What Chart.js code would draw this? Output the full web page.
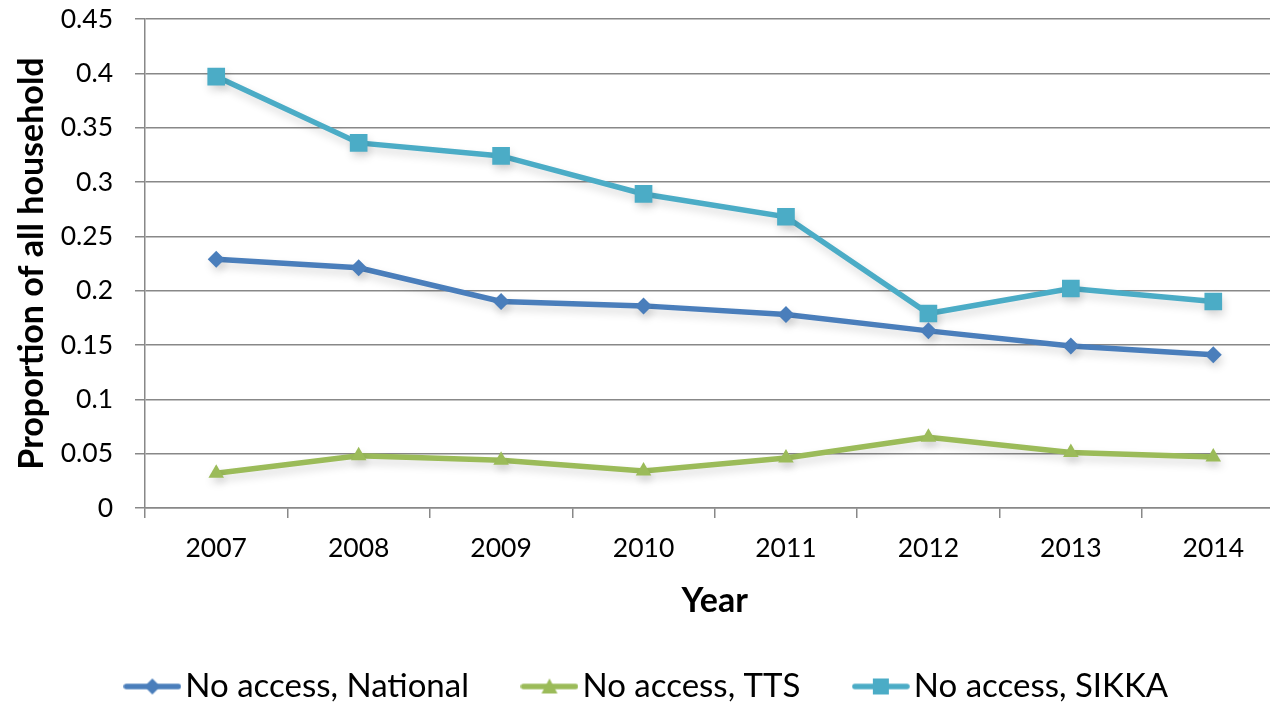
<!DOCTYPE html>
<html>
<head>
<meta charset="utf-8">
<script src="https://cdn.jsdelivr.net/npm/chart.js@4.4.1/dist/chart.umd.min.js"></script>
<style>
  html, body { margin: 0; padding: 0; background: #fff; overflow: hidden; }
  #wrap { width: 1297px; height: 703px; }
</style>
</head>
<body>
<div id="wrap"><canvas id="myChart"></canvas></div>
<script>
// data
var years = ['2007', '2008', '2009', '2010', '2011', '2012', '2013', '2014'];
var national = [0.229, 0.221, 0.190, 0.186, 0.178, 0.163, 0.149, 0.141];
var tts = [0.032, 0.048, 0.044, 0.034, 0.046, 0.065, 0.051, 0.047];
var sikka = [0.397, 0.336, 0.324, 0.289, 0.268, 0.179, 0.202, 0.190];
var seriesNames = ['No access, National', 'No access, TTS', 'No access, SIKKA'];
var yTicks = [0, 0.05, 0.1, 0.15, 0.2, 0.25, 0.3, 0.35, 0.4, 0.45];

var colors = ['#4A7EBB', '#9BBB59', '#4BACC6'];
var styles = ['rectRot', 'triangle', 'rect'];
var radii = [8.5, 9, 12.5];

function legendIcon(color, style) {
    var c = document.createElement('canvas');
    c.width = 58; c.height = 20;
    var g = c.getContext('2d');
    g.strokeStyle = color; g.fillStyle = color; g.lineWidth = 5.5; g.lineCap = 'round';
    g.beginPath(); g.moveTo(3, 10); g.lineTo(55, 10); g.stroke();
    g.beginPath();
    if (style == 'rectRot') {
        g.moveTo(29, 2); g.lineTo(37, 10); g.lineTo(29, 18); g.lineTo(21, 10);
    } else if (style == 'triangle') {
        g.moveTo(29, 2); g.lineTo(37, 17); g.lineTo(21, 17);
    } else {
        g.rect(21, 2, 16, 16);
    }
    g.closePath(); g.fill();
    return c;
}

var datasets = [national, tts, sikka].map(function (d, i) {
    return {
        label: seriesNames[i],
        data: d,
        borderColor: colors[i],
        backgroundColor: colors[i],
        borderWidth: 5.5,
        pointStyle: styles[i],
        pointRadius: radii[i],
        pointBorderWidth: 0,
        tension: 0
    };
});

var shadow = {
    id: 'shadow',
    beforeDatasetDraw: function (chart) {
        var ctx = chart.ctx;
        ctx.save();
        ctx.shadowColor = 'rgba(0,0,0,0.15)';
        ctx.shadowBlur = 8;
        ctx.shadowOffsetY = 5;
        ctx.shadowOffsetX = 2;
    },
    afterDatasetDraw: function (chart) { chart.ctx.restore(); }
};

Chart.defaults.font.family = 'Lato, "Open Sans", sans-serif';
Chart.defaults.color = '#000';

new Chart(document.getElementById('myChart'), {
    type: 'line',
    data: { labels: years, datasets: datasets },
    plugins: [shadow],
    options: {
        responsive: true,
        maintainAspectRatio: false,
        animation: false,
        layout: { padding: { top: 0, left: 12, right: 5, bottom: -10 } },
        plugins: {
            tooltip: { enabled: false },
            legend: {
                position: 'bottom',
                labels: {
                    usePointStyle: true,
                    pointStyleWidth: 33,
                    padding: 64,
                    font: { size: 33 },
                    generateLabels: function (chart) {
                        return chart.data.datasets.map(function (ds, i) {
                            return {
                                text: ds.label,
                                pointStyle: legendIcon(colors[i], styles[i]),
                                fillStyle: colors[i],
                                strokeStyle: colors[i],
                                lineWidth: 0,
                                datasetIndex: i
                            };
                        });
                    }
                }
            }
        },
        scales: {
            x: {
                offset: true,
                grid: { offset: true, drawOnChartArea: false, tickLength: 10, color: '#888', lineWidth: 1.5 },
                border: { color: '#888', width: 1.5 },
                ticks: { font: { size: 26.5 }, padding: 15, maxRotation: 0 },
                title: { display: true, text: 'Year', font: { size: 34, weight: 'bold' }, padding: { top: 0, bottom: -15 } },
                afterFit: function (s) {
                    s.height = 98;
                    s.paddingLeft = 0;
                    s.paddingRight = 0;
                }
            },
            y: {
                min: 0, max: 0.45,
                afterBuildTicks: function (s) { s.ticks = yTicks.map(function (v) { return { value: v }; }); },
                grid: { color: '#888', lineWidth: 1.5, tickLength: 10 },
                border: { color: '#888', width: 1.5 },
                ticks: {
                    font: { size: 26.5 }, padding: 22,
                    callback: function (v) { return String(Number(v.toFixed(2))); }
                },
                title: { display: true, text: 'Proportion of all household', font: { size: 34, weight: 'bold' }, padding: 0 },
                afterFit: function (s) {
                    s.width = 133;
                    s.paddingTop = 19;
                    s.paddingBottom = 0;
                }
            }
        }
    }
});
</script>
</body>
</html>
